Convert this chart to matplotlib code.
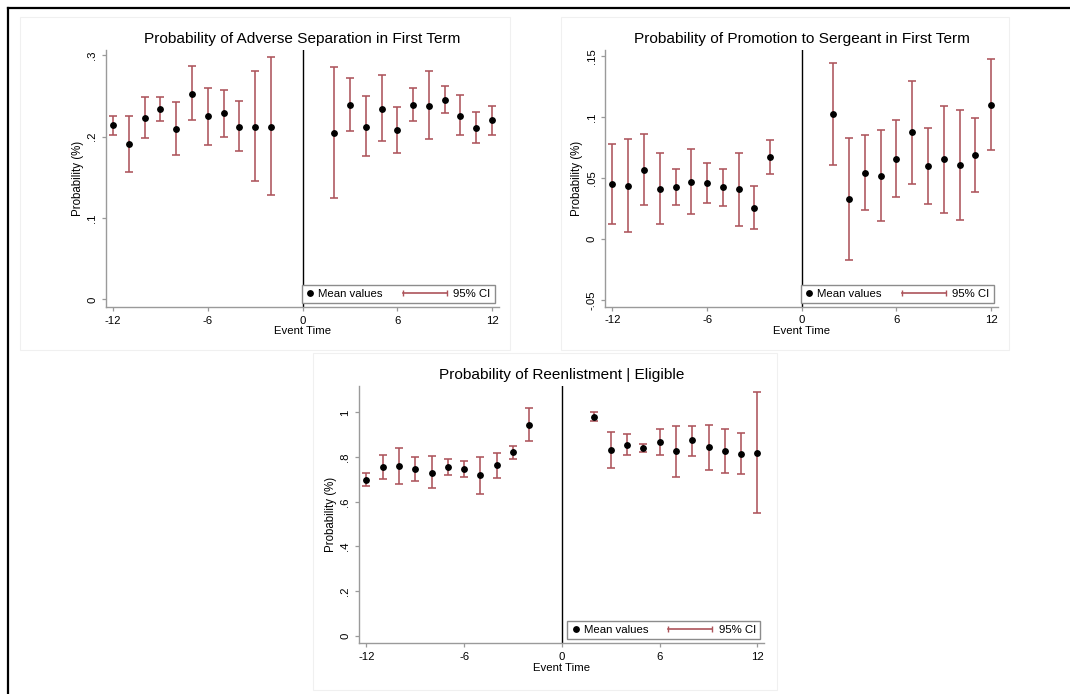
import matplotlib
matplotlib.use('Agg')
import numpy as np
import matplotlib.pyplot as plt
from matplotlib.lines import Line2D
from matplotlib.legend_handler import HandlerBase
from matplotlib.patches import Rectangle

plt.rcParams['font.family'] = ['Liberation Sans', 'DejaVu Sans']

# ---------------- data ----------------
event_time = [-12, -11, -10, -9, -8, -7, -6, -5, -4, -3, -2,
              2, 3, 4, 5, 6, 7, 8, 9, 10, 11, 12]

sep_mean = [0.214, 0.191, 0.223, 0.234, 0.209, 0.253, 0.225, 0.229, 0.212, 0.212, 0.212,
            0.205, 0.239, 0.212, 0.234, 0.208, 0.239, 0.238, 0.245, 0.226, 0.211, 0.220]
sep_lo = [0.2025, 0.156, 0.198, 0.219, 0.177, 0.221, 0.190, 0.200, 0.183, 0.1455, 0.128,
          0.125, 0.2066, 0.1758, 0.1947, 0.180, 0.2193, 0.197, 0.2287, 0.202, 0.1926, 0.202]
sep_hi = [0.226, 0.2258, 0.249, 0.2488, 0.2426, 0.2865, 0.260, 0.2578, 0.2434, 0.2803, 0.298,
          0.2852, 0.2725, 0.250, 0.2754, 0.2369, 0.2598, 0.2803, 0.2623, 0.2508, 0.230, 0.2373]

promo_mean = [0.0454, 0.0437, 0.0568, 0.0415, 0.0429, 0.0467, 0.0459, 0.0426, 0.041, 0.0257, 0.0672,
              0.1022, 0.0331, 0.0544, 0.0516, 0.0656, 0.0874, 0.0598, 0.0653, 0.0607, 0.0686, 0.1101]
promo_lo = [0.0123, 0.0057, 0.0279, 0.0128, 0.0284, 0.0208, 0.0295, 0.0273, 0.0112, 0.0085, 0.053,
            0.0609, -0.0169, 0.0238, 0.0148, 0.0347, 0.0454, 0.029, 0.0211, 0.0161, 0.0383, 0.073]
promo_hi = [0.0781, 0.0822, 0.0861, 0.0708, 0.0577, 0.0738, 0.0623, 0.0577, 0.0708, 0.0432, 0.0814,
            0.1437, 0.0828, 0.085, 0.0891, 0.0973, 0.1292, 0.0907, 0.1093, 0.1055, 0.0992, 0.147]

reen_mean = [0.6985, 0.755, 0.761, 0.746, 0.731, 0.757, 0.746, 0.718, 0.763, 0.821, 0.945,
             0.982, 0.831, 0.855, 0.839, 0.866, 0.827, 0.875, 0.845, 0.827, 0.816, 0.819]
reen_lo = [0.669, 0.7015, 0.679, 0.694, 0.663, 0.721, 0.712, 0.637, 0.7075, 0.791, 0.873,
           0.964, 0.751, 0.809, 0.821, 0.809, 0.713, 0.807, 0.743, 0.727, 0.725, 0.548]
reen_hi = [0.730, 0.809, 0.843, 0.7985, 0.803, 0.7925, 0.782, 0.7985, 0.8164, 0.849, 1.018,
           1.0, 0.912, 0.903, 0.858, 0.924, 0.940, 0.940, 0.946, 0.928, 0.909, 1.0896]

x_ticks = [-12, -6, 0, 6, 12]
x_ticklabels = ['-12', '-6', '0', '6', '12']

sep_yticks = [0, 0.1, 0.2, 0.3]
sep_yticklabels = ['0', '.1', '.2', '.3']
promo_yticks = [-0.05, 0, 0.05, 0.1, 0.15]
promo_yticklabels = ['-.05', '0', '.05', '.1', '.15']
reen_yticks = [0, 0.2, 0.4, 0.6, 0.8, 1.0]
reen_yticklabels = ['0', '.2', '.4', '.6', '.8', '1']

titles = ['Probability of Adverse Separation in First Term',
          'Probability of Promotion to Sergeant in First Term',
          'Probability of Reenlistment | Eligible']
legend_labels = ['Mean values', '95% CI']
xlabel = 'Event Time'
ylabel = 'Probability (%)'

# ---------------- style ----------------
W, H = 1070, 694
CI_COLOR = '#ad545b'
AX_COLOR = '#9a9a9a'


class CIHandler(HandlerBase):
    def create_artists(self, legend, orig_handle, xdescent, ydescent,
                       width, height, fontsize, trans):
        y = height / 2 - ydescent
        x1 = width - xdescent - 0.3 * fontsize
        x0 = x1 - 3.85 * fontsize
        line = Line2D([x0, x1], [y, y], color=orig_handle.get_color(),
                      lw=orig_handle.get_linewidth(), transform=trans)
        caps = Line2D([x0, x1], [y, y], linestyle='none', marker='|',
                      markersize=5, markeredgewidth=1.0,
                      color=orig_handle.get_color(), transform=trans)
        return [line, caps]


def px_axes(fig, left, right, top, bottom):
    return fig.add_axes([left / W, 1 - bottom / H, (right - left) / W, (bottom - top) / H])


def panel(ax, mean, lo, hi, ylim, yticks, yticklabels, title):
    x = np.array(event_time, dtype=float)
    m = np.array(mean)
    l = np.array(lo)
    h = np.array(hi)
    ax.axvline(0, color='black', lw=1.0, zorder=1)
    ax.errorbar(x, m, yerr=[m - l, h - m], fmt='none', ecolor=CI_COLOR,
                elinewidth=1.15, capsize=2.6, capthick=1.15, zorder=2)
    ax.plot(x, m, 'o', color='black', markersize=3.9, zorder=3)
    ax.set_xlim(-12.45, 12.42)
    ax.set_ylim(*ylim)
    ax.set_xticks(x_ticks, labels=x_ticklabels)
    ax.set_yticks(yticks, labels=yticklabels, rotation=90, va='center')
    for s in ['top', 'right']:
        ax.spines[s].set_visible(False)
    for s in ['left', 'bottom']:
        ax.spines[s].set_color(AX_COLOR)
        ax.spines[s].set_linewidth(1.0)
    ax.tick_params(direction='out', length=3.2, width=0.9, color=AX_COLOR,
                   labelsize=8.2, pad=3)
    ax.set_xlabel(xlabel, fontsize=8.2, labelpad=0.5)
    ax.set_ylabel(ylabel, fontsize=8.3, labelpad=2.5)
    ax.set_title(title, fontsize=11.1, pad=5)

    mean_h = Line2D([], [], marker='o', color='black', linestyle='none', markersize=3.9)
    ci_h = Line2D([], [], color=CI_COLOR, lw=1.2)
    leg = ax.legend([mean_h, ci_h], legend_labels, loc='lower right', ncol=2,
                    fontsize=8.2, handlelength=0.8, handletextpad=0.3,
                    columnspacing=5.1, borderpad=0.35, borderaxespad=0.35,
                    fancybox=False, framealpha=1, edgecolor='#8c8c8c',
                    handler_map={ci_h: CIHandler()})
    leg.get_frame().set_linewidth(1.0)


fig = plt.figure(figsize=(W / 100, H / 100), dpi=100)
fig.patch.set_facecolor('white')

# faint sub-graph outlines
for (l, r, t, b) in [(20, 510, 17, 350), (561, 1009, 17, 350), (313, 777, 353, 690)]:
    fig.add_artist(Rectangle((l / W, 1 - b / H), (r - l) / W, (b - t) / H,
                             transform=fig.transFigure, fill=False,
                             edgecolor='#f0f0f0', lw=0.8))

ax1 = px_axes(fig, 106, 498.7, 50, 307)
panel(ax1, sep_mean, sep_lo, sep_hi, (-0.0093, 0.3065), sep_yticks, sep_yticklabels, titles[0])

ax2 = px_axes(fig, 605.3, 997.7, 50, 306.7)
panel(ax2, promo_mean, promo_lo, promo_hi, (-0.0551, 0.1547), promo_yticks, promo_yticklabels, titles[1])

ax3 = px_axes(fig, 359, 764.3, 385.7, 643.3)
panel(ax3, reen_mean, reen_lo, reen_hi, (-0.034, 1.12), reen_yticks, reen_yticklabels, titles[2])

# outer black border (left and top)
fig.add_artist(Line2D([7.5 / W, 7.5 / W], [0, 1 - 7.5 / H], transform=fig.transFigure,
                      color='black', lw=1.6))
fig.add_artist(Line2D([7.5 / W, 1], [1 - 7.5 / H, 1 - 7.5 / H], transform=fig.transFigure,
                      color='black', lw=1.6))

fig.savefig('out.png', dpi=100, facecolor='white')
